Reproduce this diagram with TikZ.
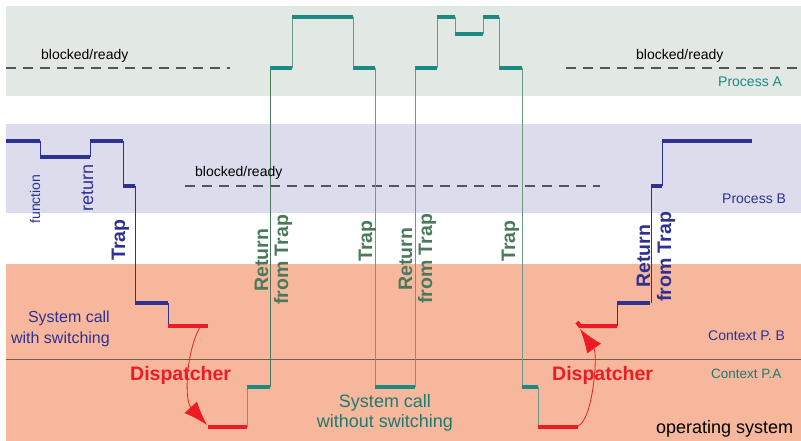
\documentclass[tikz,border=0pt]{standalone}
\usepackage{fontspec}
\setmainfont{Liberation Sans}
\usetikzlibrary{arrows.meta}
\definecolor{bandA}{HTML}{E2E9E4}
\definecolor{bandB}{HTML}{DCDCEC}
\definecolor{bandOS}{HTML}{F6B79D}
\definecolor{navy}{HTML}{2E3192}
\definecolor{tealL}{HTML}{1A8A82}
\definecolor{tealT}{HTML}{4A7A5C}
\definecolor{tealS}{HTML}{1F7A70}
\definecolor{thinT}{HTML}{6E9A80}
\definecolor{redL}{HTML}{ED1C24}
\definecolor{sepC}{HTML}{7A5A4A}
\definecolor{dashC}{HTML}{555555}
\newcommand{\fsz}[1]{\fontsize{#1pt}{#1pt}\selectfont}
\begin{document}
\begin{tikzpicture}[x=1pt,y=-1pt,
  thickN/.style={navy,line width=4pt},
  thinN/.style={navy,line width=1pt},
  thickT/.style={tealL,line width=4pt},
  thinTl/.style={thinT,line width=1pt},
  thickR/.style={redL,line width=4pt},
  dashline/.style={dashC,line width=1.2pt,dash pattern=on 10pt off 7pt},
  lbl/.style={inner sep=0pt,anchor=base west},
  rotlbl/.style={inner sep=0pt,anchor=base,rotate=90,font=\fsz{19.5}\bfseries},
  redarrow/.style={redL,line width=0.8pt,-{Latex[length=24pt,width=17pt]}}]
\useasboundingbox (0,0) rectangle (801,441);
% bands
\fill[bandA] (6,6) rectangle (801,96);
\fill[bandB] (6,124) rectangle (801,213);
\fill[bandOS] (6,264) rectangle (801,441);
\draw[sepC,line width=1pt] (6,359) -- (801,359);
% dashed lines
\draw[dashline] (6,68) -- (230,68);
\draw[dashline] (566,68) -- (801,68);
\draw[dashline] (185,186) -- (600,186);
% thin verticals (process B)
\draw[thinN] (40,141) -- (40,157);
\draw[thinN] (90,157) -- (90,141);
\draw[thinN] (123,141) -- (123,186);
\draw[thinN] (135,186) -- (135,303);
\draw[thinN] (168,303) -- (168,326);
\draw[thinN] (617,326) -- (617,303);
\draw[thinN] (651,303) -- (651,186);
\draw[thinN] (662,186) -- (662,141);
% thin verticals (process A)
\draw[thinTl] (247,427) -- (247,387);
\draw[tealT,line width=1pt] (270,387) -- (270,68);
\draw[thinTl] (292,68) -- (292,17);
\draw[thinTl] (353,17) -- (353,68);
\draw[thinTl] (375,68) -- (375,387);
\draw[thinTl] (415,387) -- (415,68);
\draw[thinTl] (437,68) -- (437,17);
\draw[thinTl] (455,17) -- (455,34);
\draw[thinTl] (483,34) -- (483,17);
\draw[thinTl] (499,17) -- (499,68);
\draw[thinTl] (522,68) -- (522,387);
\draw[thinTl] (538,387) -- (538,427);
% thick segments process B
\draw[thickN] (6,141) -- (40,141);
\draw[thickN] (40,157) -- (90,157);
\draw[thickN] (90,141) -- (123,141);
\draw[thickN] (123,186) -- (135,186);
\draw[thickN] (135,303) -- (168,303);
\draw[thickN] (617,303) -- (650,303);
\draw[thickN] (651,186) -- (662,186);
\draw[thickN] (662,141) -- (752,141);
% thick segments process A
\draw[thickT] (247,387) -- (270,387);
\draw[thickT] (270,68) -- (292,68);
\draw[thickT] (292,17) -- (353,17);
\draw[thickT] (353,68) -- (375,68);
\draw[thickT] (375,387) -- (415,387);
\draw[thickT] (415,68) -- (437,68);
\draw[thickT] (437,17) -- (455,17);
\draw[thickT] (455,34) -- (483,34);
\draw[thickT] (483,17) -- (499,17);
\draw[thickT] (499,68) -- (522,68);
\draw[thickT] (522,387) -- (538,387);
% dispatcher segments
\draw[thickR] (168,326) -- (208,326);
\draw[thickR] (208,427) -- (247,427);
\draw[thickR] (538,427) -- (578,427);
\draw[thickR] (577,322) -- (580,326) -- (617,326);
% dispatcher arrows
\coordinate (d1s) at (200,327);
\coordinate (d1e) at (207,425);
\coordinate (d2s) at (578,426);
\coordinate (d2e) at (580,329);
\draw[redarrow] (d1s) .. controls (186,352) and (184,400) .. (d1e);
\draw[redarrow] (d2s) .. controls (593,420) and (598,354) .. (d2e);
% labels
\node[lbl,font=\fsz{14}] (br1) at (41,60) {blocked/ready};
\node[lbl,font=\fsz{14}] (br2) at (195,177) {blocked/ready};
\node[lbl,font=\fsz{14}] (br3) at (636,60) {blocked/ready};
\node[lbl,font=\fsz{14},text=tealL] (pa) at (718,87) {Process A};
\node[lbl,font=\fsz{14},text=navy] (pb) at (722,204) {Process B};
\node[inner sep=0pt,anchor=base,rotate=90,font=\fsz{14},text=navy] (fn) at (40,199) {function};
\node[inner sep=0pt,anchor=base,rotate=90,font=\fsz{18},text=navy] (rt) at (93,188) {return};
\node[rotlbl,text=navy] (tr1) at (125,240) {Trap};
\node[rotlbl,text=tealT] (rf1a) at (268,260) {Return};
\node[rotlbl,text=tealT] (rf1b) at (288,260) {from Trap};
\node[rotlbl,text=tealT] (tr2) at (372,241) {Trap};
\node[rotlbl,text=tealT] (rf2a) at (412,259) {Return};
\node[rotlbl,text=tealT] (rf2b) at (432,259) {from Trap};
\node[rotlbl,text=tealT] (tr3) at (515,241) {Trap};
\node[rotlbl,text=navy] (rf3a) at (650,256) {Return};
\node[rotlbl,text=navy] (rf3b) at (671,257) {from Trap};
\node[inner sep=0pt,anchor=base east,font=\fsz{16},text=navy] (sc1) at (110,322) {System call};
\node[inner sep=0pt,anchor=base east,font=\fsz{16},text=navy] (sc2) at (110,343) {with switching};
\node[lbl,font=\fsz{19.5}\bfseries,text=redL] (dp1) at (130,380) {Dispatcher};
\node[lbl,font=\fsz{19.5}\bfseries,text=redL] (dp2) at (552,380) {Dispatcher};
\node[inner sep=0pt,anchor=base,font=\fsz{18},text=tealS] (ns1) at (385,407) {System call};
\node[inner sep=0pt,anchor=base,font=\fsz{18},text=tealS] (ns2) at (385,427) {without switching};
\node[lbl,font=\fsz{14},text=navy] (cb) at (708,340) {Context P. B};
\node[lbl,font=\fsz{13.5},text=tealS] (ca) at (711,378) {Context P.A};
\node[lbl,font=\fsz{18}] (os) at (656,433) {operating system};
\end{tikzpicture}
\end{document}
